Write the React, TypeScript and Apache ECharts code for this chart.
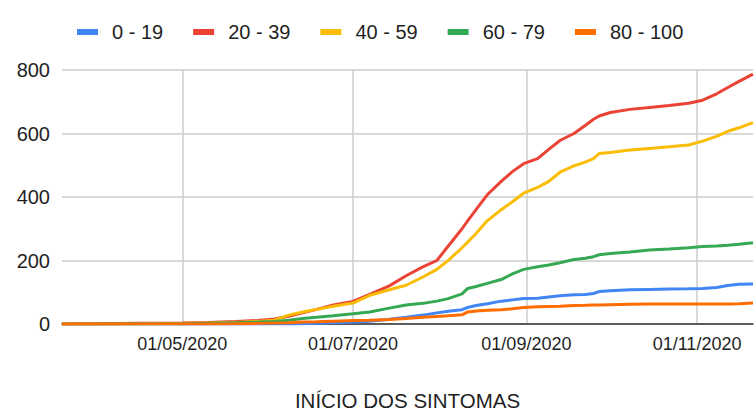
import React, { useEffect, useRef } from "react";
import * as echarts from "echarts";

const seriesNames = ["0 - 19", "20 - 39", "40 - 59", "60 - 79", "80 - 100"];
const seriesColors = ["#4285F4", "#EA4335", "#FBBC04", "#34A853", "#FF6D01"];

const dates = [
  "19/03/2020", "01/04/2020", "15/04/2020", "01/05/2020", "10/05/2020", "20/05/2020",
  "28/05/2020", "03/06/2020", "08/06/2020", "13/06/2020", "18/06/2020", "24/06/2020",
  "01/07/2020", "07/07/2020", "14/07/2020", "20/07/2020", "26/07/2020", "31/07/2020",
  "04/08/2020", "09/08/2020", "11/08/2020", "14/08/2020", "18/08/2020", "23/08/2020",
  "27/08/2020", "31/08/2020", "05/09/2020", "09/09/2020", "13/09/2020", "18/09/2020",
  "22/09/2020", "25/09/2020", "27/09/2020", "01/10/2020", "08/10/2020", "15/10/2020",
  "22/10/2020", "29/10/2020", "03/11/2020", "08/11/2020", "12/11/2020", "16/11/2020",
  "21/11/2020",
];

const age0_19 = [
  0, 0, 0, 0, 0, 0, 0, 0, 0, 1, 2, 4,
  6, 9, 15, 21, 28, 35, 40, 45, 52, 58, 64, 72,
  76, 80, 81, 85, 89, 92, 93, 96, 102, 105, 108, 109,
  110, 111, 112, 115, 121, 125, 126,
];
const age20_39 = [
  0, 1, 2, 3, 5, 8, 11, 16, 24, 35, 46, 60,
  71, 93, 120, 152, 180, 200, 245, 300, 325, 360, 407, 449,
  480, 505, 521, 550, 578, 600, 625, 645, 655, 666, 676, 682,
  688, 695, 705, 725, 745, 764, 787,
];
const age40_59 = [
  0, 0, 1, 2, 3, 5, 8, 12, 28, 38, 46, 56,
  66, 90, 108, 122, 148, 172, 200, 240, 258, 285, 325, 360,
  385, 412, 430, 449, 478, 498, 510, 521, 537, 540, 548, 553,
  558, 564, 576, 591, 607, 618, 634,
];
const age60_79 = [
  0, 0, 1, 1, 2, 4, 6, 8, 12, 17, 21, 26,
  32, 38, 50, 60, 65, 72, 80, 95, 112, 118, 128, 140,
  158, 172, 180, 186, 193, 203, 207, 212, 218, 222, 227, 233,
  236, 240, 244, 246, 248, 251, 256,
];
const age80_100 = [
  0, 0, 0, 0, 0, 1, 2, 3, 4, 6, 7, 9,
  11, 12, 14, 17, 21, 24, 26, 29, 38, 41, 43, 45,
  48, 52, 54, 55, 56, 58, 59, 60, 60, 61, 62, 63,
  63, 63, 63, 63, 63, 64, 66,
];

const xTickLabels = ["01/05/2020", "01/07/2020", "01/09/2020", "01/11/2020"];
const yTicks = [0, 200, 400, 600, 800];

const axisStart = "19/03/2020";
const axisEnd = "21/11/2020";

function parseDate(s: string) {
  const [d, m, y] = s.split("/").map(Number);
  return Date.UTC(y, m - 1, d);
}
function fmt(t: number) {
  const dt = new Date(t);
  const dd = String(dt.getUTCDate()).padStart(2, "0");
  const mm = String(dt.getUTCMonth() + 1).padStart(2, "0");
  return `${dd}/${mm}/${dt.getUTCFullYear()}`;
}

export default function App() {
  const ref = useRef<HTMLDivElement>(null);
  useEffect(() => {
    if (!ref.current) return;
    const chart = echarts.init(ref.current, undefined, { renderer: "svg" });
    const categories: string[] = [];
    for (let t = parseDate(axisStart); t <= parseDate(axisEnd); t += 86400000) {
      categories.push(fmt(t));
    }
    const all = [age0_19, age20_39, age40_59, age60_79, age80_100];
    const font = "'Liberation Sans', Arial, sans-serif";
    const showTick = (_i: number, v: string) => xTickLabels.includes(v);
    chart.setOption({
      animation: false,
      textStyle: { fontFamily: font },
      color: seriesColors,
      legend: {
        left: 72,
        top: 17,
        icon: "rect",
        itemWidth: 21,
        itemHeight: 6,
        itemGap: 30,
        textStyle: { fontSize: 20, color: "#1f1f1f", fontFamily: font, padding: [0, 0, 0, 9] },
        data: seriesNames,
      },
      grid: { left: 62, right: 2, top: 70, bottom: 88, containLabel: false },
      xAxis: {
        type: "category",
        data: categories,
        boundaryGap: false,
        name: "INÍCIO DOS SINTOMAS",
        nameLocation: "middle",
        nameGap: 66,
        nameTextStyle: { fontSize: 20.5, color: "#1f1f1f", fontFamily: font },
        axisLine: { show: true, lineStyle: { color: "#333", width: 1.5 } },
        axisTick: { show: false },
        axisLabel: {
          interval: showTick,
          fontSize: 18,
          color: "#1f1f1f",
          margin: 11,
          fontFamily: font,
        },
        splitLine: { show: true, interval: showTick, lineStyle: { color: "#ccc", width: 1.5 } },
      },
      yAxis: {
        type: "value",
        min: yTicks[0],
        max: yTicks[yTicks.length - 1],
        interval: 200,
        axisLine: { show: false },
        axisTick: { show: false },
        axisLabel: { fontSize: 20, color: "#1f1f1f", margin: 12, fontFamily: font },
        splitLine: { lineStyle: { color: "#ccc", width: 1.5 } },
      },
      series: seriesNames.map((name, i) => ({
        name,
        type: "line",
        showSymbol: false,
        symbol: "none",
        data: dates.map((d, j) => [d, all[i][j]]),
        lineStyle: { width: 3, color: seriesColors[i] },
        itemStyle: { color: seriesColors[i] },
      })),
    });
    return () => chart.dispose();
  }, []);
  return (
    <div
      ref={ref}
      style={{ position: "fixed", left: 0, top: 0, width: 755, height: 416, background: "#fff" }}
    />
  );
}
